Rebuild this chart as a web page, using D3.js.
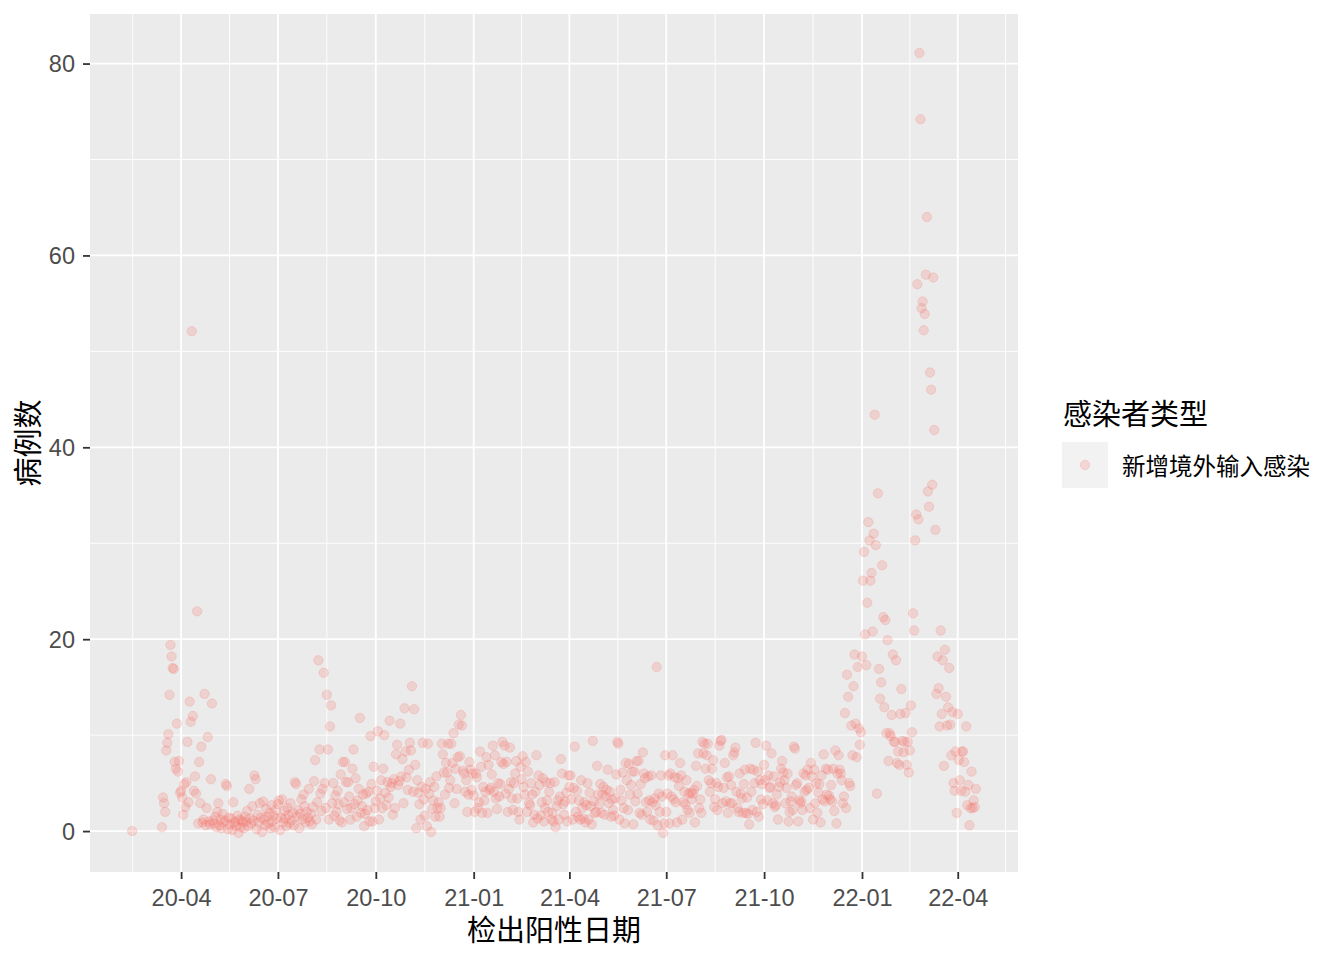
<!DOCTYPE html>
<html>
<head>
<meta charset="utf-8">
<script src="https://cdn.jsdelivr.net/npm/d3@7"></script>
<style>
  body { margin: 0; background: #fff; }
  svg { display: block; }
</style>
</head>
<body>
<div id="chart"></div>
<script>
/* daily new imported cases, one array per month */
const feb2020 = [0];
const mar2020 = [0.4, 3.5, 2.9, 2.0, 8.4, 9.2, 10.1, 14.2, 19.4, 18.2, 17.0, 16.9, 7.2, 6.5, 11.2, 6.2, 7.3, 4.0];
const apr2020 = [4.2, 3.5, 1.7, 4.9, 2.5, 5.1, 9.3, 3.0, 13.5, 11.4, 52.1, 12.0, 4.2, 5.7, 3.9, 22.9, 0.8, 7.2, 2.9, 8.8, 0.9, 1.2, 14.3, 0.6, 2.4, 9.8, 1.0, 0.7, 5.4, 13.3];
const may2020 = [1.1, 0.8, 1.5, 0.4, 2.0, 2.9, 0.6, 1.2, 0.3, 1.8, 0.9, 1.1, 4.9, 4.7, 0.2, 1.4, 0.7, 1.3, 0.1, 3.0, 0.8, 1.0, 0.5, 1.6, -0.2, 1.2, 0.4, 1.1, 0.9, 0.3, 1.5];
const jun2020 = [1.0, 2.1, 0.5, 4.4, 1.3, 0.8, 2.6, 1.1, 5.8, 5.4, 0.2, 1.7, 0.9, 2.9, 1.4, -0.1, 3.1, 1.2, 0.6, 2.3, 1.5, 0.8, 1.9, 0.3, 2.7, 1.0, 1.6, 0.4, 2.2, 1.3];
const jul2020 = [2.8, 3.2, 0.1, 1.4, 3.3, 0.9, 2.1, 1.3, 0.5, 2.4, 1.7, 0.8, 2.9, 1.1, 1.9, 0.6, 5.1, 4.9, 1.5, 2.2, 0.3, 1.8, 3.3, 1.2, 3.8, 2.6, 0.9, 2.0, 1.4, 4.4, 1.0];
const aug2020 = [1.8, 0.7, 2.5, 5.2, 7.4, 1.2, 3.0, 17.8, 8.5, 3.9, 2.1, 4.4, 16.5, 5.0, 2.4, 14.2, 8.5, 1.2, 10.9, 13.1, 2.9, 5.0, 1.6, 3.7, 2.0, 4.2, 2.8, 1.1, 5.9, 0.9, 7.2];
const sep2020 = [3.0, 7.2, 5.1, 2.3, 5.1, 3.6, 1.2, 2.4, 6.5, 8.5, 2.8, 5.5, 1.5, 3.2, 4.4, 11.8, 1.9, 2.6, 3.8, 0.5, 1.8, 3.9, 2.2, 4.1, 1.0, 9.9, 4.9, 1.0, 6.7, 2.4];
const oct2020 = [3.1, 4.2, 10.4, 1.2, 3.4, 5.3, 2.4, 6.5, 10.0, 4.0, 2.7, 5.1, 3.5, 11.5, 4.6, 5.0, 1.7, 5.4, 2.4, 8.0, 9.0, 4.8, 5.2, 11.2, 5.7, 7.5, 2.9, 12.8, 8.3, 5.6, 4.3];
const nov2020 = [6.4, 9.2, 8.4, 15.1, 4.1, 12.7, 6.9, 0.3, 5.3, 4.0, 2.8, 1.2, 4.6, 9.2, 3.3, 1.6, 4.4, 0.5, 9.1, 3.9, 5.1, -0.1, 2.3, 3.2, 4.6, 1.5, 5.7, 2.4, 3.0, 1.5];
const dec2020 = [2.4, 9.1, 8.0, 6.1, 3.8, 7.1, 6.1, 9.1, 4.5, 5.3, 9.1, 7.1, 10.2, 2.9, 6.5, 4.4, 7.7, 11.1, 7.8, 12.1, 11.0, 6.3, 6.0, 4.1, 5.3, 2.0, 3.8, 7.2, 6.4, 4.3, 6.0];
const jan2021 = [3.7, 2.0, 6.0, 5.6, 2.4, 3.0, 8.3, 6.7, 1.9, 4.6, 3.2, 4.1, 7.7, 1.9, 6.9, 4.3, 4.5, 5.9, 8.9, 4.1, 7.9, 3.4, 2.3, 5.0, 3.6, 4.9, 7.2, 9.3, 7.0, 8.9, 3.9];
const feb2021 = [7.2, 2.0, 4.4, 8.7, 5.1, 3.4, 2.2, 5.0, 6.0, 7.3, 3.4, 2.0, 1.2, 6.7, 5.4, 7.8, 4.6, 3.8, 7.2, 2.0, 6.2, 2.9, 2.7, 5.0, 3.8, 0.9, 1.7, 4.1];
const mar2021 = [7.9, 1.3, 5.8, 4.8, 1.6, 3.0, 5.5, 1.0, 2.4, 5.1, 3.2, 2.0, 4.1, 5.0, 1.2, 1.9, 1.0, 5.1, 0.4, 2.6, 3.2, 1.2, 3.6, 7.5, 6.0, 2.8, 1.7, 3.1, 4.0, 1.0, 5.8];
const apr2021 = [4.6, 5.8, 3.3, 1.2, 4.5, 8.8, 2.0, 4.2, 1.5, 3.2, 1.2, 5.3, 2.4, 1.3, 3.0, 0.9, 2.7, 5.0, 1.2, 4.0, 2.6, 0.7, 9.4, 3.1, 1.9, 2.0, 6.8, 3.8, 2.8, 4.9];
const may2021 = [1.9, 3.8, 4.6, 1.7, 3.6, 4.3, 6.4, 2.9, 4.1, 1.5, 3.3, 2.2, 1.6, 3.4, 5.9, 9.3, 9.1, 1.2, 4.3, 3.2, 6.1, 2.4, 0.8, 7.1, 5.3, 2.2, 7.0, 3.8, 4.8, 6.2, 0.7];
const jun2021 = [6.2, 3.1, 7.3, 3.9, 7.3, 1.9, 4.9, 1.7, 8.2, 6.0, 5.5, 3.0, 2.0, 5.7, 3.2, 1.2, 5.8, 3.0, 1.1, 3.4, 2.7, 17.1, 0.6, 3.9, 2.0, 5.8, 3.6, -0.2, 0.8, 7.9];
const jul2021 = [2.0, 3.9, 5.8, 0.8, 6.0, 3.6, 7.9, 3.3, 5.6, 3.0, 0.9, 5.5, 4.7, 7.1, 5.8, 1.2, 3.0, 4.1, 2.8, 5.3, 2.2, 3.9, 1.9, 4.0, 3.3, 3.9, 4.3, 0.9, 6.8, 4.7, 8.1];
const aug2021 = [2.4, 3.3, 1.9, 9.3, 8.1, 9.1, 6.5, 7.9, 9.1, 5.3, 4.1, 5.0, 6.5, 7.4, 2.5, 3.3, 5.0, 2.2, 4.6, 8.9, 9.4, 9.5, 2.9, 4.5, 7.1, 3.1, 5.6, 1.9, 5.7, 2.9, 4.8];
const sep2021 = [2.9, 7.9, 8.2, 8.7, 4.1, 2.4, 2.0, 6.0, 3.9, 3.4, 1.9, 4.9, 6.4, 1.9, 3.5, 1.8, 0.7, 6.5, 4.1, 2.2, 6.4, 5.0, 9.2, 2.0, 6.2, 1.5, 5.3, 3.3, 4.9, 2.8];
const oct2021 = [6.9, 5.3, 8.9, 3.2, 5.8, 4.5, 4.6, 8.1, 2.9, 5.7, 2.5, 2.7, 3.8, 1.2, 4.6, 5.1, 6.5, 7.3, 6.1, 5.3, 2.9, 4.5, 6.0, 1.0, 2.0, 3.1, 3.6, 2.2, 8.8, 8.6, 4.8];
const nov2021 = [5.0, 1.0, 3.2, 2.9, 3.1, 2.2, 6.0, 4.1, 5.8, 4.3, 6.4, 4.5, 2.4, 7.1, 5.7, 1.2, 6.4, 2.9, 5.0, 1.9, 4.0, 4.9, 0.9, 5.8, 3.3, 8.0, 3.1, 6.5, 3.8, 6.4];
const dec2021 = [3.7, 3.3, 4.8, 3.1, 6.5, 2.1, 8.4, 0.8, 6.0, 7.9, 6.4, 6.0, 5.3, 2.9, 3.6, 12.3, 2.4, 16.3, 14.0, 5.0, 4.7, 11.0, 7.9, 15.1, 18.4, 11.2, 7.7, 17.1, 10.7, 9.0, 10.3];
const jan2022 = [18.2, 26.1, 29.1, 20.5, 17.3, 23.8, 32.2, 30.3, 26.1, 26.9, 20.8, 31.0, 43.4, 29.8, 3.9, 35.2, 16.9, 13.8, 15.5, 27.7, 22.3, 12.9, 22.0, 10.2, 19.9, 7.3, 10.2, 9.9, 12.1, 18.4, 9.3];
const feb2022 = [9.3, 17.8, 7.1, 8.3, 6.9, 12.2, 14.8, 9.4, 8.2, 9.3, 12.3, 6.9, 9.3, 6.1, 8.4, 13.1, 10.3, 22.7, 20.9, 30.3, 33.0, 57.0, 32.5, 81.1, 74.2, 54.5, 55.2, 52.2];
const mar2022 = [53.9, 58.0, 64.0, 35.4, 33.8, 47.8, 46.0, 36.1, 57.7, 41.8, 31.4, 14.3, 18.2, 14.9, 10.9, 20.9, 12.2, 17.8, 6.8, 18.9, 14.0, 11.0, 12.9, 17.0, 11.1, 7.9, 12.4, 5.0, 4.2, 8.3, 1.9];
const apr2022 = [12.2, 7.4, 5.3, 4.2, 8.3, 8.3, 7.2, 4.1, 10.9, 2.7, 4.8, 0.6, 2.4, 6.2, 2.4, 3.2, 2.5, 4.4];

/* first date of each monthly array */
const monthStarts = [
  ["2020-02-15", feb2020], ["2020-03-14", mar2020], ["2020-04-01", apr2020], ["2020-05-01", may2020],
  ["2020-06-01", jun2020], ["2020-07-01", jul2020], ["2020-08-01", aug2020], ["2020-09-01", sep2020],
  ["2020-10-01", oct2020], ["2020-11-01", nov2020], ["2020-12-01", dec2020], ["2021-01-01", jan2021],
  ["2021-02-01", feb2021], ["2021-03-01", mar2021], ["2021-04-01", apr2021], ["2021-05-01", may2021],
  ["2021-06-01", jun2021], ["2021-07-01", jul2021], ["2021-08-01", aug2021], ["2021-09-01", sep2021],
  ["2021-10-01", oct2021], ["2021-11-01", nov2021], ["2021-12-01", dec2021], ["2022-01-01", jan2022],
  ["2022-02-01", feb2022], ["2022-03-01", mar2022], ["2022-04-01", apr2022]
];

const xTitle = "检出阳性日期";
const yTitle = "病例数";
const legendTitle = "感染者类型";
const seriesName = "新增境外输入感染";
const yTicks = [0, 20, 40, 60, 80];

const parse = d3.utcParse("%Y-%m-%d");
const points = [];
monthStarts.forEach(([start, vals]) => {
  const s = parse(start);
  vals.forEach((v, i) => points.push({ date: d3.utcDay.offset(s, i), value: v }));
});

const w = 1344, h = 960;
const panel = { left: 90, top: 14, right: 1018, bottom: 872 };
const pointColor = "#F8766D";
const tickFont = "'Liberation Sans', Arial, sans-serif";
const cjkFont = "'Noto Sans CJK SC', sans-serif";

/* ggplot style 5% expansion */
const xExt = d3.extent(points, d => d.date);
const xSpan = xExt[1] - xExt[0];
const x = d3.scaleUtc()
  .domain([new Date(+xExt[0] - 0.05 * xSpan), new Date(+xExt[1] + 0.05 * xSpan)])
  .range([panel.left, panel.right]);

const yExt = d3.extent(points, d => d.value);
const ySpan = yExt[1] - yExt[0];
const y = d3.scaleLinear()
  .domain([yExt[0] - 0.05 * ySpan, yExt[1] + 0.05 * ySpan])
  .range([panel.bottom, panel.top]);

const xMajor = x.ticks(d3.utcMonth.every(3));
const xMinor = [];
xMajor.forEach((t, i) => {
  if (i === 0) xMinor.push(new Date(+t - (xMajor[1] - t) / 2));
  if (i < xMajor.length - 1) xMinor.push(new Date((+t + +xMajor[i + 1]) / 2));
  else xMinor.push(new Date(+t + (t - xMajor[i - 1]) / 2));
});
const xDom = x.domain();
const xMinorIn = xMinor.filter(d => d >= xDom[0] && d <= xDom[1]);
const yMinor = yTicks.slice(0, -1).map((t, i) => (t + yTicks[i + 1]) / 2);

const svg = d3.select("#chart").append("svg")
  .attr("width", w)
  .attr("height", h)
  .attr("viewBox", [0, 0, w, h]);

svg.append("rect").attr("width", w).attr("height", h).attr("fill", "#fff");

/* panel background */
svg.append("rect")
  .attr("x", panel.left).attr("y", panel.top)
  .attr("width", panel.right - panel.left)
  .attr("height", panel.bottom - panel.top)
  .attr("fill", "#EBEBEB");

const grid = svg.append("g").attr("stroke", "#fff").attr("fill", "none");

grid.selectAll(".ymin").data(yMinor).join("line")
  .attr("x1", panel.left).attr("x2", panel.right)
  .attr("y1", d => y(d)).attr("y2", d => y(d))
  .attr("stroke-width", 0.9);

grid.selectAll(".xmin").data(xMinorIn).join("line")
  .attr("y1", panel.top).attr("y2", panel.bottom)
  .attr("x1", d => x(d)).attr("x2", d => x(d))
  .attr("stroke-width", 0.9);

grid.append("g").selectAll("line").data(yTicks).join("line")
  .attr("x1", panel.left).attr("x2", panel.right)
  .attr("y1", d => y(d)).attr("y2", d => y(d))
  .attr("stroke-width", 1.8);

grid.append("g").selectAll("line").data(xMajor).join("line")
  .attr("y1", panel.top).attr("y2", panel.bottom)
  .attr("x1", d => x(d)).attr("x2", d => x(d))
  .attr("stroke-width", 1.8);

/* points */
svg.append("g")
  .selectAll("circle")
  .data(points)
  .join("circle")
  .attr("cx", d => x(d.date))
  .attr("cy", d => y(d.value))
  .attr("r", 4.7)
  .attr("fill", pointColor)
  .attr("fill-opacity", 0.22)
  .attr("stroke", pointColor)
  .attr("stroke-opacity", 0.22)
  .attr("stroke-width", 1);

/* axes */
const xAxis = d3.axisBottom(x)
  .tickValues(xMajor)
  .tickSize(7)
  .tickPadding(9)
  .tickFormat(d3.utcFormat("%y-%m"));

const yAxis = d3.axisLeft(y)
  .tickValues(yTicks)
  .tickSize(7)
  .tickPadding(8);

const gx = svg.append("g")
  .attr("transform", `translate(0,${panel.bottom})`)
  .call(xAxis);
const gy = svg.append("g")
  .attr("transform", `translate(${panel.left},0)`)
  .call(yAxis);

[gx, gy].forEach(g => {
  g.select(".domain").remove();
  g.selectAll(".tick line").attr("stroke", "#333333").attr("stroke-width", 1.8);
  g.selectAll(".tick text")
    .attr("fill", "#4D4D4D")
    .style("font-family", tickFont)
    .style("font-size", "23.5px");
});
gx.selectAll(".tick text").attr("dy", "0.78em");
gy.selectAll(".tick text").attr("dy", "0.35em");

/* axis titles */
svg.append("text")
  .attr("x", (panel.left + panel.right) / 2)
  .attr("y", 941)
  .attr("text-anchor", "middle")
  .style("font-family", cjkFont)
  .style("font-size", "29px")
  .attr("fill", "#000")
  .text(xTitle);

svg.append("text")
  .attr("transform", `translate(28,${(panel.top + panel.bottom) / 2}) rotate(-90)`)
  .attr("text-anchor", "middle")
  .attr("dy", "0.38em")
  .style("font-family", cjkFont)
  .style("font-size", "29px")
  .attr("fill", "#000")
  .text(yTitle);

/* legend */
const legend = svg.append("g").attr("transform", "translate(1062,0)");
legend.append("text")
  .attr("x", 1)
  .attr("y", 425)
  .style("font-family", cjkFont)
  .style("font-size", "29px")
  .attr("fill", "#000")
  .text(legendTitle);

legend.append("rect")
  .attr("x", 0).attr("y", 442)
  .attr("width", 46).attr("height", 46)
  .attr("fill", "#F2F2F2");

legend.append("circle")
  .attr("cx", 23).attr("cy", 465)
  .attr("r", 4.7)
  .attr("fill", pointColor).attr("fill-opacity", 0.22)
  .attr("stroke", pointColor).attr("stroke-opacity", 0.22)
  .attr("stroke-width", 1);

legend.append("text")
  .attr("x", 60)
  .attr("y", 466)
  .attr("dy", "0.38em")
  .style("font-family", cjkFont)
  .style("font-size", "23.5px")
  .attr("fill", "#000")
  .text(seriesName);
</script>
</body>
</html>
